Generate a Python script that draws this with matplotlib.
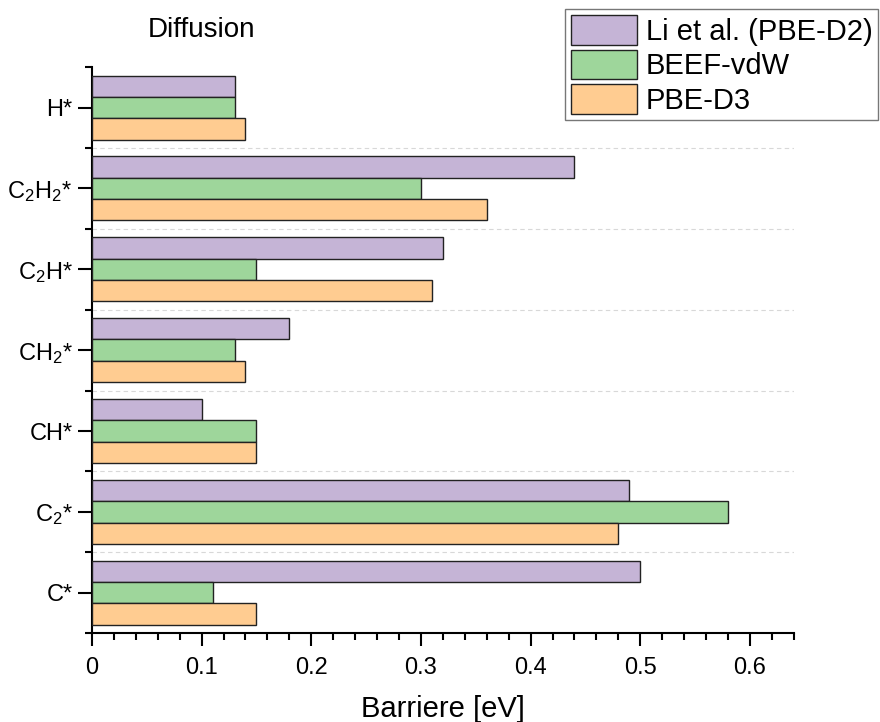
import numpy as np
import matplotlib
matplotlib.use('Agg')
import matplotlib.pyplot as plt
from matplotlib.ticker import MultipleLocator

plt.rcParams['font.family'] = ['Liberation Sans', 'DejaVu Sans']
plt.rcParams['mathtext.fontset'] = 'custom'
plt.rcParams['mathtext.rm'] = 'Liberation Sans'
plt.rcParams['mathtext.it'] = 'Liberation Sans'

# species from bottom to top
species = ['C*', r'C$_2$*', 'CH*', r'CH$_2$*', r'C$_2$H*', r'C$_2$H$_2$*', 'H*']
li_pbe_d2 = [0.50, 0.49, 0.10, 0.18, 0.32, 0.44, 0.13]
beef_vdw = [0.11, 0.58, 0.15, 0.13, 0.15, 0.30, 0.13]
pbe_d3 = [0.15, 0.48, 0.15, 0.14, 0.31, 0.36, 0.14]
series_names = ['Li et al. (PBE-D2)', 'BEEF-vdW', 'PBE-D3']
series_colors = ['#C5B4D6', '#9ED69B', '#FFCC91']

fig = plt.figure(figsize=(8.8, 7.22), dpi=100)
ax = fig.add_axes([0.1045, 0.123, 0.7975, 0.784])

y = np.arange(len(species))
h = 0.264
for k, (vals, name, col) in enumerate(zip([li_pbe_d2, beef_vdw, pbe_d3], series_names, series_colors)):
    ax.barh(y + (1 - k) * h, vals, height=h, color=col, edgecolor='#222222',
            linewidth=1.0, label=name, zorder=3)

ax.set_xlim(0, 0.64)
ax.set_ylim(-0.5, len(species) - 0.5)
ax.set_yticks(y)
ax.set_yticklabels(species, fontsize=17)
ax.set_yticks(np.arange(-0.5, len(species), 1.0), minor=True)
ax.xaxis.set_minor_locator(MultipleLocator(0.02))
ax.set_xticks(np.arange(0, 0.61, 0.1))
ax.set_xticklabels(['0', '0.1', '0.2', '0.3', '0.4', '0.5', '0.6'], fontsize=17)

# dashed separators between species groups
for b in np.arange(0.5, len(species) - 1, 1.0):
    ax.axhline(b, color='#d8d8d8', linestyle=(0, (4, 3)), linewidth=0.8, zorder=1)

for s in ['top', 'right']:
    ax.spines[s].set_visible(False)
for s in ['left', 'bottom']:
    ax.spines[s].set_linewidth(1.5)
ax.tick_params(which='major', direction='out', length=10, width=1.5, pad=4)
ax.tick_params(which='minor', direction='out', length=5, width=1.5)
ax.tick_params(axis='x', which='major', length=9, pad=8)
ax.tick_params(axis='x', which='minor', length=5)

ax.set_xlabel('Barriere [eV]', fontsize=21, labelpad=12)

fig.text(0.2295, 0.958, 'Diffusion', fontsize=20, ha='center', va='center')

leg = fig.legend(loc='upper right', bbox_to_anchor=(0.998, 0.987), fontsize=21,
                 handlelength=2.25, handleheight=1.2, labelspacing=0.12,
                 handletextpad=0.3, borderpad=0.2, borderaxespad=0.0,
                 fancybox=False, frameon=True)
leg.get_frame().set_edgecolor('#555555')
leg.get_frame().set_linewidth(1.0)

fig.savefig('out.png', dpi=100)
